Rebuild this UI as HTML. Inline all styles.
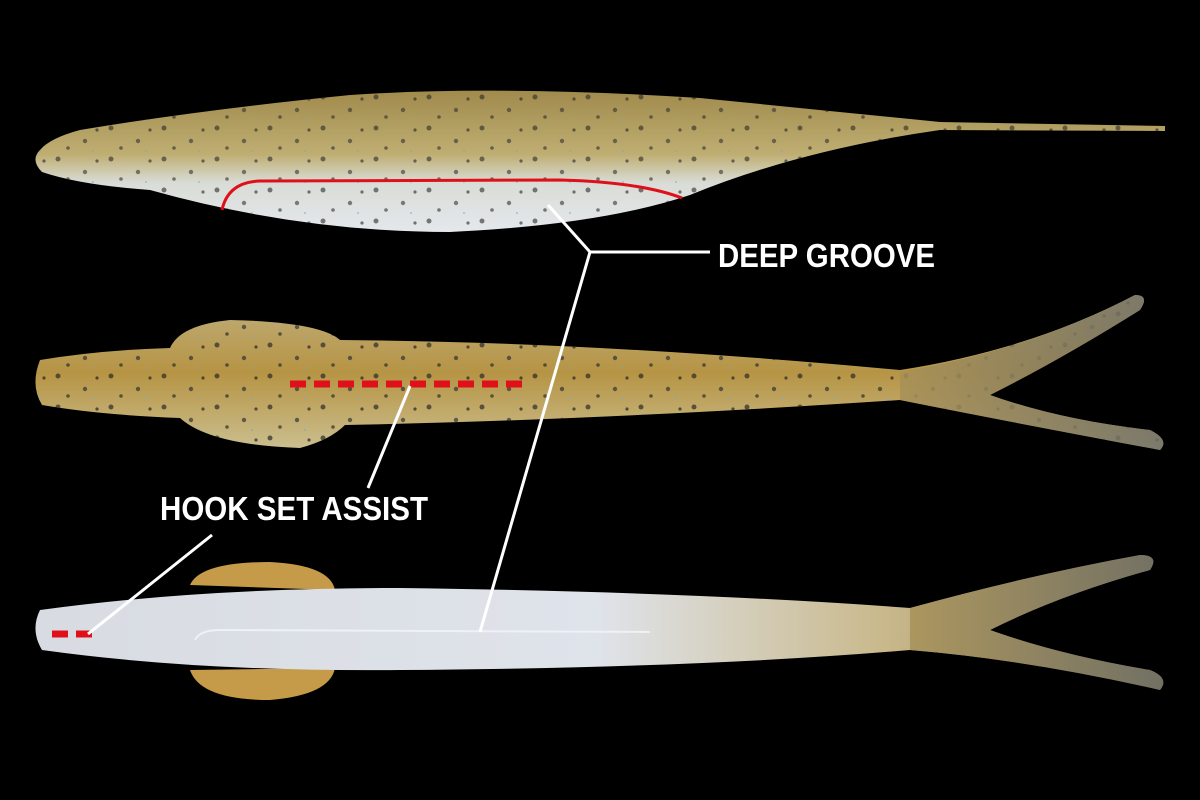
<!DOCTYPE html>
<html><head><meta charset="utf-8"><style>
html,body{margin:0;padding:0;background:#000;width:1200px;height:800px;overflow:hidden}
svg{display:block}
text{font-family:"Liberation Sans",sans-serif;font-weight:bold;fill:#fff}
</style></head><body>
<svg width="1200" height="800" viewBox="0 0 1200 800">
<defs>
<linearGradient id="g1" x1="0" y1="0" x2="0" y2="1">
<stop offset="0" stop-color="#a08a4c"/><stop offset="0.45" stop-color="#bfae72"/><stop offset="0.65" stop-color="#d9dcd6"/><stop offset="1" stop-color="#e4e8ec"/></linearGradient>
<linearGradient id="g2" x1="0" y1="0" x2="0" y2="1">
<stop offset="0" stop-color="#c0b080"/><stop offset="0.5" stop-color="#b69444"/><stop offset="1" stop-color="#cbbf90"/></linearGradient>
<linearGradient id="g3" x1="0" y1="0" x2="1" y2="0">
<stop offset="0" stop-color="#d8dce2"/><stop offset="0.5" stop-color="#dfe3ea"/><stop offset="0.75" stop-color="#c9b98c"/><stop offset="1" stop-color="#8a7e55"/></linearGradient>
<linearGradient id="tail" x1="0" y1="0" x2="1" y2="0">
<stop offset="0" stop-color="#a89158"/><stop offset="1" stop-color="#6d6e66"/></linearGradient>
<pattern id="sp" width="53" height="31" patternUnits="userSpaceOnUse">
<circle cx="5" cy="4" r="2.5" fill="#2a2a28"/><circle cx="32" cy="17" r="2.2" fill="#333"/><circle cx="44" cy="6" r="1.6" fill="#222"/><circle cx="15" cy="24" r="1.8" fill="#2d2d2a"/><circle cx="40" cy="27" r="1" fill="#7ab"/></pattern>
</defs>

<!-- Lure 1 -->
<path d="M40 150 Q30 160 42 172 Q80 185 150 190 Q300 232 450 232 Q600 225 690 195 Q800 150 940 130 L1165 131 L1165 126 L940 122 Q820 110 700 98 Q500 85 350 95 Q200 110 80 130 Q50 138 40 150Z" fill="url(#g1)"/>
<path d="M40 150 Q30 160 42 172 Q80 185 150 190 Q300 232 450 232 Q600 225 690 195 Q800 150 940 130 L1165 131 L1165 126 L940 122 Q820 110 700 98 Q500 85 350 95 Q200 110 80 130 Q50 138 40 150Z" fill="url(#sp)" opacity="0.6"/>
<path d="M222 210 Q228 182 260 181 L560 180 Q640 182 682 198" fill="none" stroke="#e0101a" stroke-width="3"/>

<!-- Lure 2 -->
<path d="M40 360 Q30 385 42 405 Q100 415 180 418 Q210 445 300 448 Q330 440 345 425 Q600 420 900 400 Q1000 420 1160 450 Q1170 440 1150 430 Q1060 420 990 395 Q1060 360 1140 310 Q1150 295 1135 295 Q1030 350 900 370 Q600 342 340 340 Q320 322 230 320 Q180 325 170 348 Q100 350 40 360Z" fill="url(#g2)"/>
<path d="M40 360 Q30 385 42 405 Q100 415 180 418 Q210 445 300 448 Q330 440 345 425 Q600 420 900 400 Q1000 420 1160 450 Q1170 440 1150 430 Q1060 420 990 395 Q1060 360 1140 310 Q1150 295 1135 295 Q1030 350 900 370 Q600 342 340 340 Q320 322 230 320 Q180 325 170 348 Q100 350 40 360Z" fill="url(#sp)" opacity="0.7"/>
<path d="M900 372 Q1030 350 1135 295 Q1150 295 1140 310 Q1060 360 990 395 Q1060 420 1150 430 Q1170 440 1160 450 Q1000 420 900 400Z" fill="url(#tail)" opacity="0.85"/>
<line x1="290" y1="384" x2="525" y2="384" stroke="#e0101a" stroke-width="7" stroke-dasharray="16 8"/>

<!-- Lure 3 -->
<path d="M190 585 Q200 562 270 562 Q330 565 335 590Z M190 670 Q200 700 270 700 Q330 695 335 668Z" fill="#c59a48"/>
<path d="M40 610 Q30 630 42 650 Q200 672 400 670 Q700 668 910 650 Q1030 660 1160 690 Q1170 678 1150 670 Q1060 655 990 630 Q1060 595 1150 570 Q1160 555 1140 555 Q1030 575 910 608 Q700 592 400 588 Q200 588 40 610Z" fill="url(#g3)"/>
<path d="M910 608 Q1030 575 1140 555 Q1160 555 1150 570 Q1060 595 990 630 Q1060 655 1150 670 Q1170 678 1160 690 Q1030 660 910 650Z" fill="url(#tail)" opacity="0.85"/>
<path d="M195 640 Q200 630 220 630 L650 632" fill="none" stroke="#eef1f5" stroke-width="2"/>
<line x1="52" y1="634" x2="95" y2="634" stroke="#e0101a" stroke-width="7" stroke-dasharray="16 8"/>

<!-- connectors -->
<g stroke="#fff" stroke-width="3" fill="none">
<polyline points="548,205 590,252 710,252"/>
<line x1="590" y1="252" x2="480" y2="632"/>
<line x1="410" y1="386" x2="368" y2="488"/>
<line x1="212" y1="535" x2="88" y2="634"/>
</g>
<text x="718" y="267" font-size="33" textLength="217" lengthAdjust="spacingAndGlyphs">DEEP GROOVE</text>
<text x="160" y="520" font-size="33" textLength="268" lengthAdjust="spacingAndGlyphs">HOOK SET ASSIST</text>
</svg>
</body></html>
